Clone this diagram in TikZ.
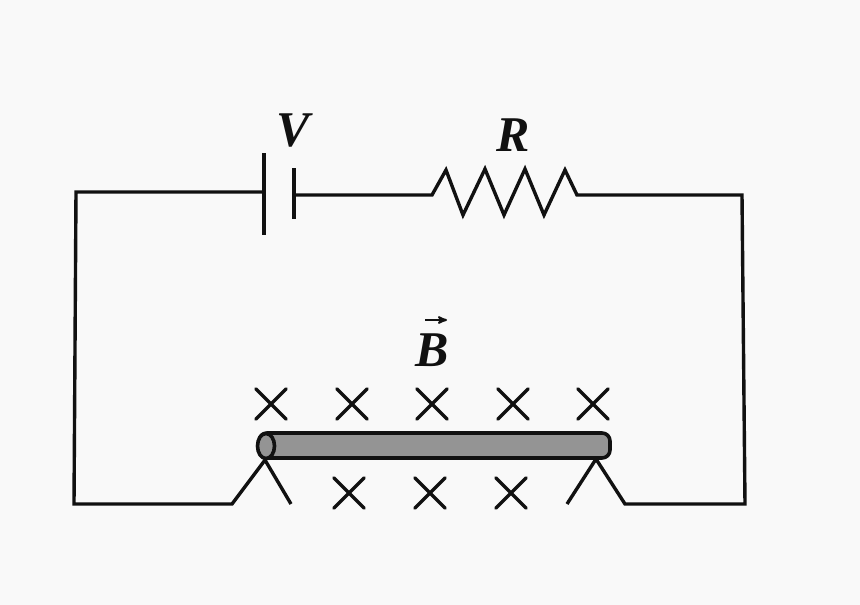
\documentclass[tikz,border=0pt]{standalone}
\usepackage{fontspec}
\setmainfont{Liberation Serif}
\usetikzlibrary{arrows, shapes.misc, shapes.geometric}
\definecolor{paper}{HTML}{F9F9F9}
\definecolor{ink}{HTML}{111111}
\tikzset{
  x=1pt, y=-1pt, % same numbers as the pixels of the picture
  wire/.style={draw=ink, line width=3.4pt, line join=miter}, % every line of the circuit
  fieldmark/.style={cross out, draw=ink, line width=3.4pt, minimum size=27pt, inner sep=0pt, line cap=round}, % field into the page
  rod/.style={draw=ink, line width=3.6pt, fill=black!42, minimum width=351pt, minimum height=25pt, inner sep=0pt, rounded corners=8pt},
  rodend/.style={ellipse, draw=ink, line width=3.6pt, fill=black!42, minimum width=17pt, minimum height=25pt, inner sep=0pt},
  symbol/.style={text=ink, font=\fontsize{50}{50}\selectfont\bfseries\itshape, inner sep=0pt},
}
\begin{document}
\begin{tikzpicture}
    \fill[paper] (0,0) rectangle (860,605);
    \useasboundingbox (0,0) rectangle (860,605);
    % labels
    \node[symbol] (V) at (293,131) {V};
    \node[symbol] (R) at (513,135) {R};
    \node[symbol] (B) at (432,350) {B};
    \coordinate (Ba) at (425,320);
    \coordinate (Bb) at (447,320);
    \draw[-stealth', draw=ink, line width=2pt] (Ba) -- (Bb);
    % battery
    \coordinate (p1t) at (264,153);
    \coordinate (p1b) at (264,235);
    \coordinate (p1m) at (264,192);
    \coordinate (p2t) at (294,168);
    \coordinate (p2b) at (294,219);
    \coordinate (p2m) at (294,195);
    \draw[wire] (p1t) -- (p1b);
    \draw[wire] (p2t) -- (p2b);
    % rod on its two supports
    \node[rod] (rod) at (434.5,445.5) {};
    \node[rodend] (end) at (266,446) {};
    \coordinate (sl) at (265,460);
    \coordinate (sr) at (596,459);
    \coordinate (fl) at (291,504);
    \coordinate (fr) at (567,504);
    \draw[wire] (sl) -- (fl);
    \draw[wire] (sr) -- (fr);
    % corners of the loop
    \coordinate (c1) at (76,192);
    \coordinate (c2) at (74,504);
    \coordinate (c3) at (232,504);
    \coordinate (c4) at (625,504);
    \coordinate (c5) at (745,504);
    \coordinate (c6) at (742,195);
    \draw[wire] (p1m) -- (c1) -- (c2) -- (c3) -- (sl);
    \draw[wire] (sr) -- (c4) -- (c5) -- (c6) -- (577,195)
      -- (565,170) -- (544,215) -- (525,169) -- (504,215)
      -- (485,169) -- (463,215) -- (446,170) -- (432,195) -- (p2m);
    % field marks
    \foreach \i/\xx in {1/271, 2/352, 3/432, 4/513, 5/593}
      \node[fieldmark] (up\i) at (\xx,404) {};
    \foreach \i/\xx in {1/349, 2/430, 3/511}
      \node[fieldmark] (dn\i) at (\xx,493) {};
\end{tikzpicture}
\end{document}
